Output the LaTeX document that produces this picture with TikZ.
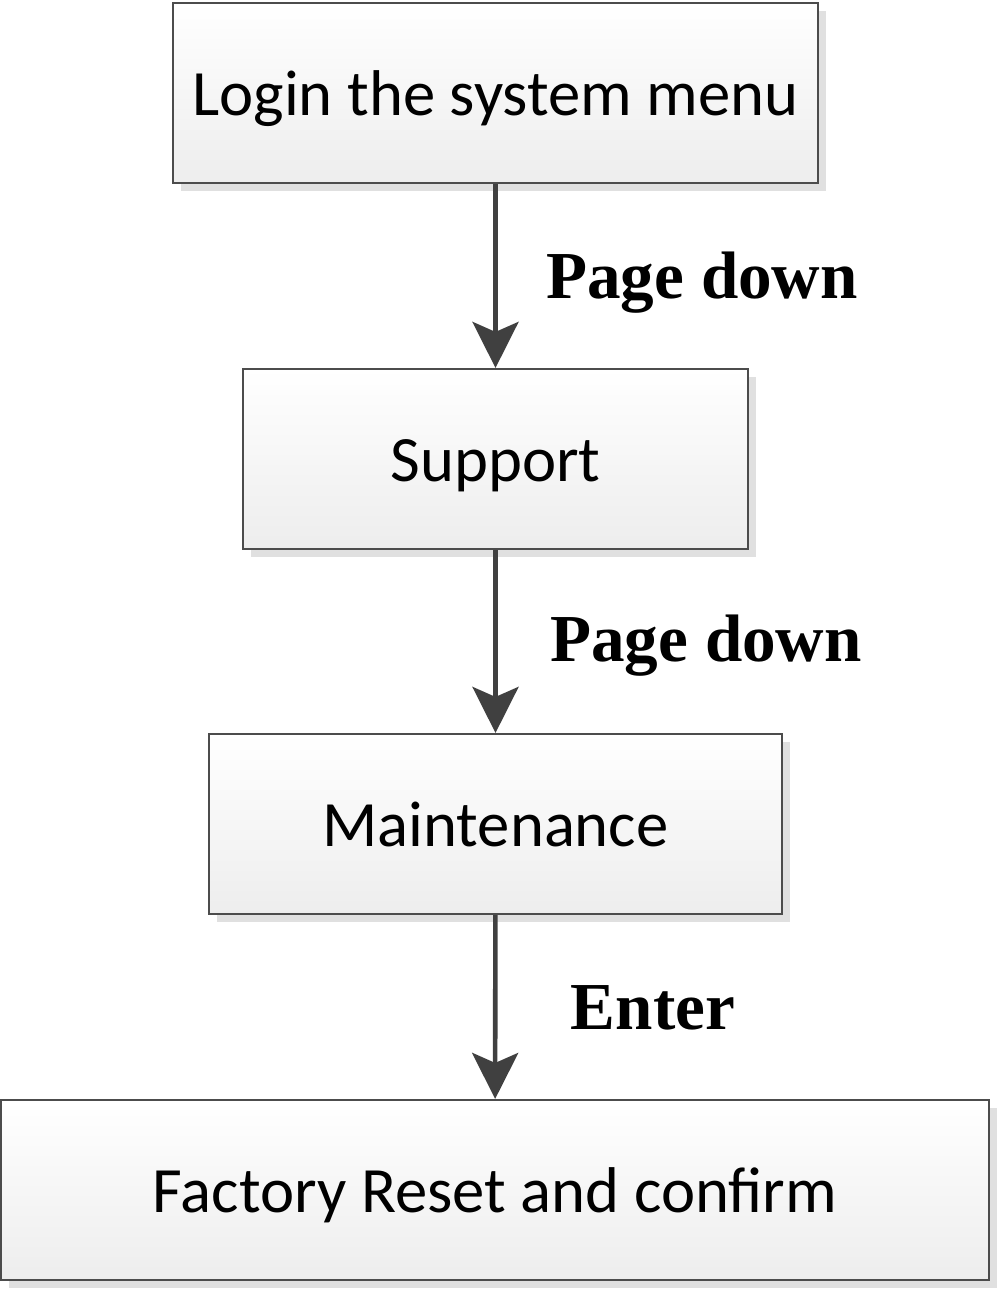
\documentclass[tikz,border=0pt]{standalone}
\usepackage{fontspec}
\setmainfont{Carlito}
\newfontfamily\keyfont{Liberation Serif}
\usetikzlibrary{arrows.meta,shadows}

\begin{document}
\begin{tikzpicture}[
box/.style={draw=black!70, line width=0.6pt, rectangle, minimum height=1.8cm, inner sep=0pt,
  text height=0.45cm, text depth=0pt,
  top color=white, bottom color=black!7,
  drop shadow={shadow xshift=0.08cm, shadow yshift=-0.08cm, fill=black!12, opacity=1},
  font=\fontsize{18.4}{22}\selectfont},
flow/.style={draw=black!75, line width=1.3pt, -{Stealth[length=0.46cm, width=0.46cm, inset=0.1cm]}},
keylabel/.style={font=\keyfont\fontsize{19.1}{23}\selectfont\bfseries}]
\useasboundingbox (0,0) rectangle (10,12.91);
\node[box, minimum width=6.45cm] (login) at (4.955,11.98) {Login the system menu};
\node[box, minimum width=5.05cm] (support) at (4.955,8.32) {Support};
\node[box, minimum width=5.73cm] (maint) at (4.955,4.67) {Maintenance};
\node[box, minimum width=9.88cm] (reset) at (4.95,1.01) {Factory Reset and confirm};
\draw[flow] (login) -- (support);
\draw[flow] (support) -- (maint);
\draw[flow] (maint) -- (reset);
\node[keylabel] (key1) at (7.02,10.08) {Page down};
\node[keylabel] (key2) at (7.06,6.45) {Page down};
\node[keylabel] (key3) at (6.53,2.83) {Enter};
\end{tikzpicture}
\end{document}
